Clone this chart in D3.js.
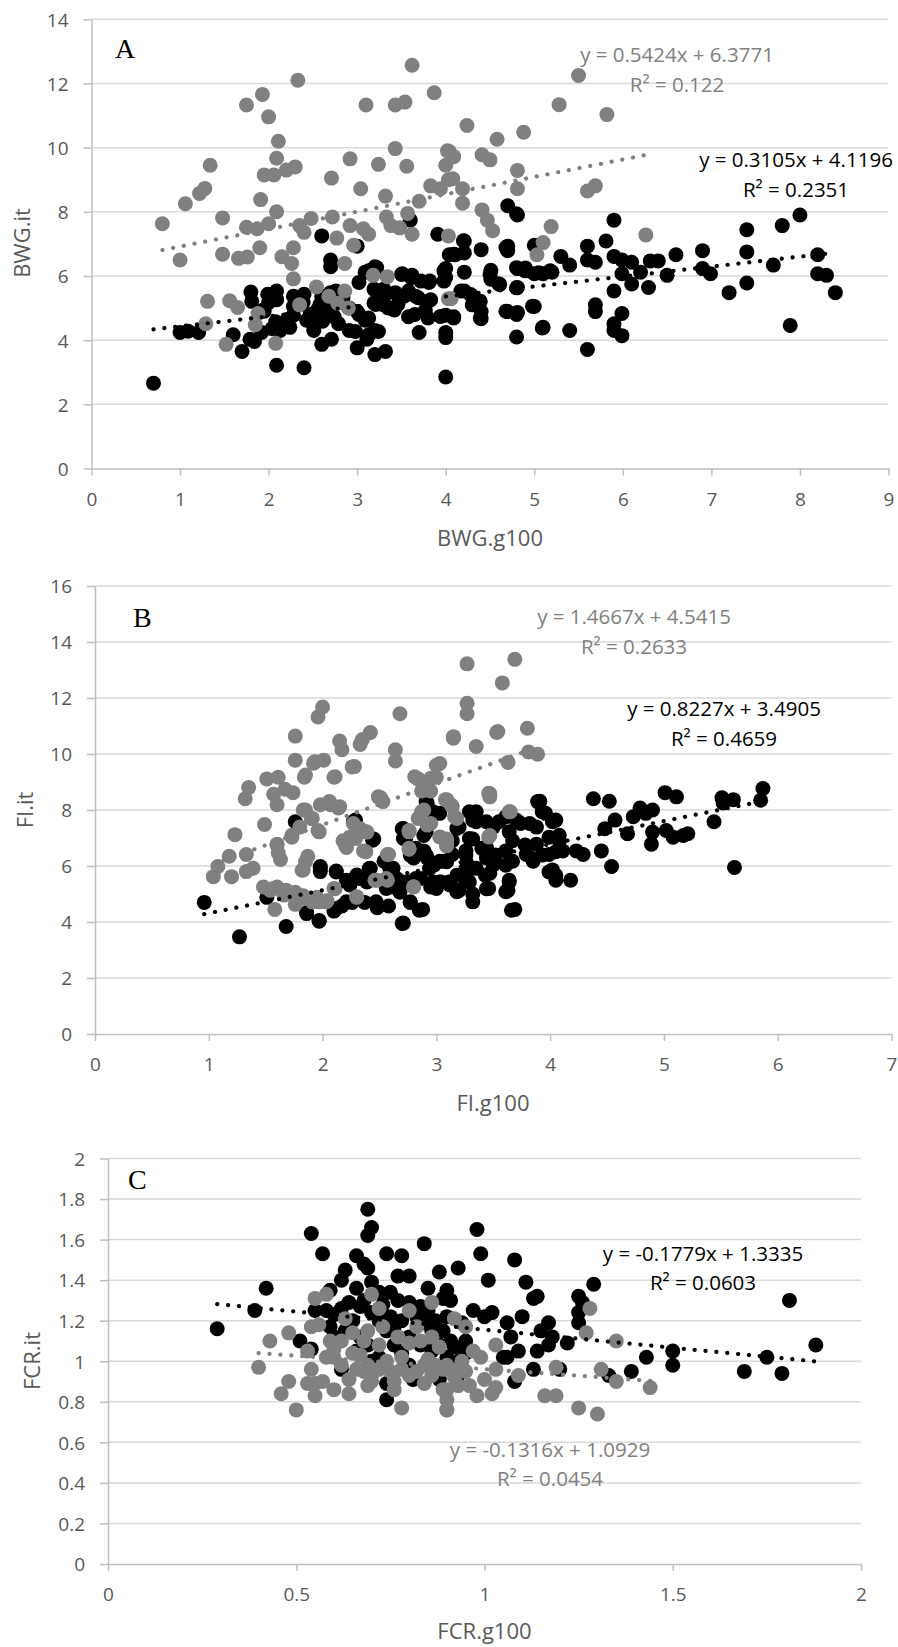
<!DOCTYPE html>
<html><head><meta charset="utf-8">
<script src="https://cdn.jsdelivr.net/npm/d3@7/dist/d3.min.js"></script>
<style>body{margin:0;background:#fff}svg{display:block}</style>
</head><body>
<svg id="c" width="898" height="1647"></svg>
<script>
// ---------- DATA ----------
const aBlack = [[0.7,2.66],[1.0,4.24],[1.09,4.28],[1.21,4.24],[1.6,4.17],[1.7,3.65],[1.79,4.03],[1.8,5.5],[1.92,4.24],[1.94,4.94],[1.99,5.43],[2.09,5.53],[2.09,5.26],[2.09,3.22],[2.08,4.57],[2.21,4.64],[2.28,5.37],[2.4,5.43],[2.28,4.78],[2.4,3.14],[2.51,4.3],[2.6,7.25],[2.6,3.87],[2.71,4.03],[2.7,6.5],[2.7,6.29],[2.6,5.37],[2.7,5.48],[2.55,4.94],[2.62,4.78],[2.74,4.73],[2.79,4.51],[2.91,4.3],[3.0,6.93],[3.0,3.76],[3.11,4.03],[3.2,4.3],[3.02,5.8],[3.09,6.12],[3.2,6.29],[3.0,4.89],[3.09,4.62],[3.19,5.59],[3.19,5.16],[3.2,3.55],[3.32,3.65],[3.3,5.1],[3.42,4.94],[3.3,5.59],[3.51,6.07],[3.62,6.02],[3.53,5.37],[3.66,5.37],[3.6,7.74],[3.58,4.73],[3.7,4.24],[3.77,4.94],[3.83,5.26],[3.81,5.8],[3.91,7.3],[4.0,4.78],[4.0,4.24],[4.0,4.08],[4.0,2.85],[4.04,6.66],[4.0,6.23],[4.0,5.96],
[4.21,7.09],[4.11,6.66],[4.21,6.72],[4.4,6.82],[4.21,6.12],[4.21,5.53],[4.3,5.37],[4.3,5.1],[4.4,4.89],[4.4,4.67],[4.09,4.73],[4.51,6.18],[4.51,5.9],[4.6,5.75],[4.7,8.19],[4.81,7.9],[4.7,6.93],[4.7,6.79],[4.81,6.23],[4.9,6.25],[4.81,5.64],[4.7,4.89],[4.81,4.86],[4.8,4.1],[5.0,6.96],[5.0,6.07],[5.1,6.07],[5.2,6.12],[5.0,5.05],[5.1,4.4],[5.3,6.61],[5.4,6.34],[5.4,4.3],[5.6,6.93],[5.6,6.5],[5.69,6.43],[5.6,3.71],[5.69,5.1],[5.69,4.89],[5.81,7.09],[5.9,7.74],[5.9,6.61],[5.99,6.5],[6.1,6.43],[5.9,5.53],[5.99,6.07],[6.1,5.75],[6.2,6.12],[5.9,4.51],[5.9,4.3],[5.99,4.83],[5.99,4.14],[6.29,5.64],[6.31,6.47],[6.4,6.47],[6.5,6.02],[6.6,6.66],[6.9,6.79],[6.9,6.23],[6.99,6.07],[7.2,5.48],[7.4,7.44],[7.4,6.75],[7.4,5.78],[7.7,6.34],[7.8,7.57],[8.0,7.9],[7.89,4.46],[8.2,6.66],[8.2,6.07],[8.3,6.02],[8.4,5.48],
[3.13,6.16],[3.22,6.26],[3.21,5.53],[3.32,5.42],[3.43,5.48],[3.21,5.11],[3.35,5.0],[3.46,5.11],[3.5,6.05],[3.61,5.95],[3.72,5.84],[3.82,5.84],[3.58,5.53],[3.69,5.32],[3.8,5.21],[3.65,4.8],[3.8,4.69],[3.94,4.74],[3.98,6.16],[3.98,5.84],[4.09,6.68],[4.2,7.1],[4.09,4.69],[4.17,5.53],[4.28,5.42],[4.39,5.21],[4.39,4.69],[4.5,6.05],[4.61,5.74],[4.68,6.89],[4.8,7.94],[4.68,4.9],[4.8,4.8],[4.8,5.63],[4.98,5.06],[5.09,4.38],[4.8,6.26],[4.9,6.16],[5.05,6.1],[5.18,6.16],[1.95,4.9],[1.84,3.96],[2.91,5.0],[3.02,4.8],[3.13,4.69],[2.98,4.27],[3.13,4.17],[3.24,4.27],[2.76,5.53],[2.84,5.32],[2.58,5.11],[2.69,5.0],[2.47,4.8],[2.61,4.59],[1.81,5.21],[2.0,5.17],[2.09,5.27],[2.28,5.05],[2.39,5.17],[2.04,4.36],[2.13,4.3],[2.24,4.4],[2.43,4.62],[2.51,4.46]];
const aGray = [[0.8,7.63],[1.0,6.5],[1.06,8.25],[1.22,8.57],[1.28,8.73],[1.34,9.45],[1.48,7.81],[1.48,6.68],[1.31,5.21],[1.29,4.51],[1.52,3.87],[1.56,5.23],[1.65,5.02],[1.66,6.55],[1.76,6.59],[1.75,11.33],[1.93,11.66],[2.0,10.96],[2.11,10.2],[2.09,9.67],[1.95,9.15],[2.06,9.15],[2.2,9.3],[2.3,9.4],[2.33,12.1],[1.75,7.52],[1.87,7.47],[1.91,8.38],[2.0,7.63],[2.09,8.0],[1.9,6.88],[1.88,4.83],[1.85,4.48],[2.08,3.9],[2.15,6.6],[2.26,6.39],[2.28,5.91],[2.28,6.88],[2.35,5.1],[2.35,7.57],[2.4,7.36],[2.48,7.79],[2.54,5.66],[2.71,9.05],[2.72,7.84],[2.77,7.18],[2.86,6.39],[2.86,5.53],[2.68,5.37],[2.9,5.0],[2.78,5.15],[2.92,9.65],[2.92,7.57],[2.96,6.96],[3.04,8.72],[3.1,11.33],[3.07,7.47],[3.13,7.3],[3.18,6.02],[3.24,9.48],[3.32,8.49],[3.33,7.84],[3.34,5.98],[3.43,11.33],[3.54,11.42],[3.43,9.97],[3.38,7.57],[3.48,7.5],[3.56,9.42],[3.57,7.95],[3.62,7.3],[3.62,12.57],[3.7,8.33],[3.83,8.81],[3.94,8.72],[3.87,11.71],[4.02,9.9],[4.0,9.45],[4.03,9.0],[4.03,7.25],[4.03,5.29],
[5.5,12.25],[5.28,11.34],[5.82,11.03],[4.24,10.69],[4.58,10.26],[4.88,10.48],[4.04,9.88],[4.09,9.72],[4.41,9.78],[4.5,9.62],[4.81,9.29],[4.08,9.03],[4.19,8.72],[4.81,8.72],[5.6,8.65],[5.69,8.81],[4.19,8.27],[4.41,8.06],[4.47,7.74],[4.53,7.41],[5.19,7.54],[6.26,7.28],[5.1,7.04],[5.03,6.66],[4.06,5.29]];

const bBlack = [[0.96,4.7],[1.27,3.47],[1.68,3.84],[1.76,7.58],[1.51,4.88],[1.86,4.33],[1.97,4.05],[1.98,5.98],[1.98,5.8],[2.12,5.82],[2.1,4.39],[2.17,4.57],[2.21,5.49],[2.3,5.68],[2.39,5.43],[2.26,4.7],[2.37,4.7],[2.48,4.51],[2.58,4.57],[2.42,5.92],[2.45,6.96],[2.29,7.64],[2.54,6.17],[2.62,5.92],[2.61,5.25],[2.68,5.06],[2.77,5.43],[2.71,3.96],[2.77,4.7],[2.88,4.45],[2.7,7.33],[2.73,6.96],[2.8,6.29],[2.89,6.54],[2.92,8.25],[2.99,7.88],[2.89,7.09],[2.92,6.29],[2.98,6.04],[3.06,6.17],[2.86,5.55],[2.95,5.25],[3.04,5.43],
[3.03,7.88],[3.2,7.39],[3.14,6.9],[3.35,7.94],[3.32,7.64],[3.44,7.58],[3.32,6.96],[3.44,6.66],[3.5,7.39],[3.61,7.76],[3.7,7.64],[3.74,7.52],[3.61,6.54],[3.67,6.9],[3.67,6.17],[3.91,8.31],[3.82,7.52],[3.88,7.39],[3.96,7.88],[4.05,7.64],[3.88,6.78],[3.99,7.03],[4.08,6.9],[4.11,6.54],[3.14,6.41],[3.26,6.54],[3.35,5.92],[3.44,6.29],[3.5,6.04],[3.79,6.41],[3.85,6.17],[3.99,6.41],[3.11,5.43],[3.2,5.13],[3.32,5.0],[3.26,5.43],[3.32,5.92],[3.47,5.74],[3.44,5.19],[3.64,5.49],[3.63,5.13],[3.69,4.45],[3.03,5.43],[3.03,6.17],[4.02,5.86],[4.05,5.49],[4.18,5.49],[4.23,6.54],[4.29,6.41],[4.38,8.4],[4.52,8.31],[4.45,6.54],[4.48,7.33],[4.57,7.64],[4.54,5.98],[4.68,7.15],[4.73,7.76],[4.79,8.07],[4.84,7.88],[4.9,8.0],[4.89,6.78],[4.9,7.21],[5.01,8.62],[5.11,8.47],[5.02,7.27],[5.08,7.03],[5.17,7.09],[5.21,7.15],[5.44,7.58],[5.51,8.44],[5.61,8.37],[5.52,8.25],[5.62,5.95],[5.87,8.77],[5.85,8.35],
[1.98,5.91],[2.12,5.79],[1.86,4.3],[1.97,4.03],[2.12,4.48],[2.21,4.72],[2.3,4.84],[2.24,5.32],[2.33,5.55],[2.41,5.91],[2.44,6.92],[2.27,7.58],[2.47,4.72],[2.56,5.2],[2.59,5.91],[2.65,5.55],[2.71,7.34],[2.71,6.98],[2.77,6.39],[2.82,6.63],[2.71,5.43],[2.82,5.55],[2.77,4.72],[2.85,4.42],[2.7,3.95],[2.91,8.3],[2.97,7.94],[2.91,7.22],[2.91,6.39],[2.94,5.91],[2.97,5.43],[3.0,5.2],[3.09,6.15],[3.18,5.67],[3.26,6.39],[3.18,7.34],[3.29,7.94],[3.35,7.58],[3.29,6.98],[3.4,6.63],[3.46,6.39],[3.26,5.91],[3.29,5.43],[3.32,4.72],[3.18,5.08],[3.12,5.32],[3.43,5.67],[3.46,5.2],[3.61,5.08],[3.52,6.39],[3.61,6.03],[3.64,5.43],[3.66,4.42],[3.55,7.58],[3.64,7.22],[3.72,7.58],[3.78,6.75],[3.84,6.27],[3.93,6.39],[3.89,8.3],[3.93,7.94],[3.99,5.79],[4.05,5.67],[4.02,7.58],[4.05,6.51],[4.08,7.1]];
const bGray = [[1.04,5.62],[1.08,5.98],[1.18,6.35],[1.2,5.62],[1.23,7.12],[1.33,6.41],[1.33,5.8],[1.39,5.92],[1.32,8.4],[1.35,8.8],[1.49,7.48],[1.51,9.11],[1.61,9.17],[1.57,8.56],[1.6,8.19],[1.67,8.74],[1.74,8.62],[1.76,10.64],[1.76,9.78],[1.84,9.17],[1.93,9.72],[2.01,9.78],[1.96,11.32],[2.0,11.68],[2.1,9.17],[2.15,10.46],[2.17,10.15],[2.26,9.54],[2.33,10.34],[2.42,10.77],[2.35,10.52],[2.68,11.44],[2.64,10.15],[2.64,9.75],[3.0,9.6],[1.98,8.19],[2.07,8.19],[2.14,8.07],[1.83,8.0],[1.9,7.7],[1.96,7.27],[1.73,7.03],[1.8,7.39],[1.6,6.78],[1.61,6.47],[1.63,6.23],[1.48,5.25],[1.54,5.13],[1.6,5.25],[1.68,5.13],[1.76,5.06],[1.58,4.45],[1.76,4.63],[1.83,4.94],[1.87,6.35],[1.83,5.86],[1.95,4.88],[2.04,4.76],[2.11,5.19],[2.18,6.9],[2.24,7.03],[2.21,6.66],[2.27,7.52],[2.33,7.33],[2.39,7.21],[2.36,6.54],[2.3,4.88],[2.51,8.44],[2.46,5.49],[2.57,5.49],[2.58,6.41],[2.76,7.27],[2.76,6.6],[2.8,5.25],[2.84,9.11],[2.92,8.99],[2.87,8.68],[2.95,8.68],[2.84,7.7],[2.89,8.0],[2.95,7.52],[3.08,8.37],[3.09,6.9],[3.0,9.17],
[3.27,13.22],[3.69,13.38],[3.58,12.54],[3.27,11.81],[3.27,11.44],[3.15,10.56],[3.35,10.27],[3.53,10.77],[3.8,10.92],[3.81,10.07],[3.89,9.99],[3.63,9.7],[3.03,9.66],[3.47,8.58],[3.47,8.47],[3.09,8.37],[3.14,8.13],[3.16,7.76],[3.47,7.09],[3.64,7.94],[3.09,6.96],[3.09,6.72],
[3.15,10.62],[3.54,10.8],[1.92,9.67],[1.85,9.25],[2.11,9.19],[2.28,9.55],[2.06,8.3],[2.15,8.12],[1.85,8.0],[1.91,7.7],[1.97,7.22],[1.73,7.1],[1.6,6.75],[2.2,6.75],[2.29,6.98],[2.38,7.22],[2.38,6.51],[1.85,6.15],[1.82,5.85],[1.57,5.2],[1.66,4.96],[1.74,4.96],[1.85,4.84],[1.91,4.72],[1.97,4.72],[2.03,4.72],[2.3,4.9],[2.1,5.2],[2.48,5.49],[2.56,5.55],[2.57,6.41],[2.49,8.47],[2.53,8.3],[2.81,9.19],[2.95,9.13],[2.92,8.71],[2.87,7.94],[2.92,7.46],[2.76,7.22],[2.76,6.63],[3.13,8.18],[3.18,7.7],[3.03,7.04],[3.09,6.75],[3.46,8.6],[3.46,7.04],[3.65,7.94],[2.8,5.26]];

const cBlack = [[0.29,1.16],[0.39,1.25],[0.42,1.36],[0.51,1.1],[0.54,1.63],[0.57,1.53],[0.55,1.25],[0.58,1.25],[0.6,1.23],[0.59,1.35],[0.54,1.06],[0.59,1.17],[0.62,1.4],[0.63,1.45],[0.62,0.96],[0.63,1.15],[0.66,1.52],[0.68,1.48],[0.69,1.46],[0.66,1.36],[0.69,1.75],[0.7,1.66],[0.69,1.62],[0.64,1.29],[0.67,1.27],[0.7,1.24],[0.7,1.39],[0.72,1.34],[0.67,1.12],[0.69,1.08],[0.74,1.53],[0.78,1.52],[0.77,1.42],[0.8,1.42],[0.84,1.58],[0.75,1.34],[0.77,1.3],[0.74,1.15],[0.76,1.08],[0.8,1.29],[0.83,1.27],[0.85,1.36],[0.88,1.44],[0.84,1.19],[0.86,1.15],[0.72,1.02],[0.74,0.89],[0.74,0.81],[0.8,0.98],[0.81,0.91],[0.89,1.31],[0.89,1.15],[0.88,0.91],
[0.98,1.65],[0.99,1.53],[1.08,1.5],[0.93,1.46],[1.01,1.4],[1.11,1.39],[1.29,1.38],[0.9,1.35],[0.91,1.3],[1.13,1.31],[1.14,1.32],[1.25,1.32],[1.26,1.29],[1.25,1.24],[1.25,1.19],[0.97,1.25],[1.0,1.22],[1.02,1.24],[1.1,1.22],[0.94,1.19],[0.95,1.1],[0.92,1.07],[1.06,1.19],[1.07,1.12],[1.15,1.15],[1.17,1.19],[1.18,1.12],[1.17,1.08],[1.22,1.09],[1.09,1.05],[1.14,1.05],[1.05,1.02],[1.06,1.02],[1.13,0.96],[1.2,0.96],[1.08,0.9],[1.33,0.93],[1.39,0.95],[1.43,1.02],[1.5,1.05],[1.5,0.98],[1.69,0.95],[1.75,1.02],[1.79,0.94],[1.81,1.3],[1.88,1.08],[0.88,1.08],[0.91,1.1],[0.9,0.98],[0.93,0.93],
[0.75,1.22],[0.78,1.2],[0.82,1.22],[0.85,1.25],[0.87,1.2],[0.9,1.22],[0.76,1.17],[0.72,1.2],[0.8,1.12],[0.83,1.08],[0.86,1.05],[0.9,1.02],[0.93,1.0],[0.95,1.04],[0.78,1.04],[0.7,1.0],[0.66,1.05],[0.73,1.28],[0.68,1.3],[0.62,1.26],[0.65,1.2],[0.6,1.12]];
const cGray = [[0.4,0.97],[0.43,1.1],[0.46,0.84],[0.48,0.9],[0.5,0.76],[0.48,1.14],[0.53,1.05],[0.54,0.96],[0.53,0.89],[0.55,0.89],[0.55,0.83],[0.54,1.17],[0.56,1.18],[0.55,1.31],[0.58,1.33],[0.58,1.02],[0.59,1.1],[0.6,1.02],[0.62,0.98],[0.63,1.21],[0.64,0.84],[0.64,0.91],[0.66,0.96],[0.65,1.14],[0.68,1.1],[0.69,1.15],[0.67,1.03],[0.69,0.98],[0.69,0.88],[0.7,1.33],[0.72,1.26],[0.7,0.93],[0.72,0.96],[0.73,1.17],[0.75,0.95],[0.77,1.12],[0.78,1.02],[0.78,0.96],[0.76,0.86],[0.78,0.77],[0.8,1.25],[0.82,1.17],[0.8,1.09],[0.83,1.1],[0.82,0.95],[0.84,0.89],[0.85,1.01],[0.86,1.12],[0.88,1.07],[0.86,1.29],[0.86,0.93],[0.89,0.96],[0.9,0.86],[0.9,0.76],
[0.92,1.21],[0.95,1.17],[0.88,1.07],[0.97,1.05],[0.99,1.02],[0.9,0.98],[0.93,0.96],[0.95,0.95],[1.03,1.08],[1.03,0.96],[0.89,0.86],[0.93,0.88],[0.9,0.81],[0.9,0.76],[0.98,0.83],[1.02,0.84],[1.03,0.87],[1.0,0.91],[1.09,0.93],[1.16,0.83],[1.19,0.83],[1.19,0.97],[1.25,0.77],[1.3,0.74],[1.27,1.14],[1.28,1.26],[1.31,0.96],[1.35,1.1],[1.35,0.9],[1.44,0.87],
[0.6,1.06],[0.62,1.1],[0.65,1.04],[0.68,0.95],[0.7,0.9],[0.72,1.08],[0.74,1.0],[0.76,0.9],[0.8,0.93],[0.84,0.98],[0.87,0.98],[0.92,0.92],[0.94,1.0],[0.96,0.88],[0.57,0.9],[0.6,0.86]];

// tick values / domains
const aXTicks = [0,1,2,3,4,5,6,7,8,9];
const aYTicks = [0,2,4,6,8,10,12,14];
const bXTicks = [0,1,2,3,4,5,6,7];
const bYTicks = [0,2,4,6,8,10,12,14,16];
const cXTicks = [0,0.5,1,1.5,2];
const cYTicks = [0,0.2,0.4,0.6,0.8,1,1.2,1.4,1.6,1.8,2];

// regression lines (slope, intercept) and labels
const aBlackFit = [0.3105, 4.1196], aGrayFit = [0.5424, 6.3771];
const bBlackFit = [0.8227, 3.4905], bGrayFit = [1.4667, 4.5415];
const cBlackFit = [-0.1779, 1.3335], cGrayFit = [-0.1316, 1.0929];
const aBlackEq = ["y = 0.3105x + 4.1196", "R² = 0.2351"], aGrayEq = ["y = 0.5424x + 6.3771", "R² = 0.122"];
const bBlackEq = ["y = 0.8227x + 3.4905", "R² = 0.4659"], bGrayEq = ["y = 1.4667x + 4.5415", "R² = 0.2633"];
const cBlackEq = ["y = -0.1779x + 1.3335", "R² = 0.0603"], cGrayEq = ["y = -0.1316x + 1.0929", "R² = 0.0454"];
const axisTitles = [["BWG.g100","BWG.it"],["FI.g100","FI.it"],["FCR.g100","FCR.it"]];
const panelLetters = ["A","B","C"];

// ---------- LAYOUT ----------
const BLACK = "#000000", GRAY = "#808080";
const FONT = "'Open Sans', 'Noto Sans', sans-serif";
const panels = [
  {black:aBlack, gray:aGray, xt:aXTicks, yt:aYTicks, bf:aBlackFit, gf:aGrayFit, be:aBlackEq, ge:aGrayEq,
   L:91.5, R:888.5, T:19.3, B:468.5, xTitle:[490,546], yTitle:[30,243], letter:[115,57.5],
   bePos:[796,167.4], gePos:[677,62.3], fmt:d3.format("d")},
  {black:bBlack, gray:bGray, xt:bXTicks, yt:bYTicks, bf:bBlackFit, gf:bGrayFit, be:bBlackEq, ge:bGrayEq,
   L:95, R:891.5, T:586, B:1034, xTitle:[493,1111], yTitle:[33,810], letter:[133,627],
   bePos:[724,716], gePos:[634,624.4], fmt:d3.format("d")},
  {black:cBlack, gray:cGray, xt:cXTicks, yt:cYTicks, bf:cBlackFit, gf:cGrayFit, be:cBlackEq, ge:cGrayEq,
   L:108, R:861, T:1158.5, B:1564, xTitle:[484.5,1638.5], yTitle:[40,1361], letter:[128,1188.5],
   bePos:[703,1260.5], gePos:[550,1456.7], fmt:d=>String(+d.toFixed(1))}
];

const svg = d3.select("#c");

panels.forEach((p,i)=>{
  const x = d3.scaleLinear().domain(d3.extent(p.xt)).range([p.L,p.R]);
  const y = d3.scaleLinear().domain(d3.extent(p.yt)).range([p.B,p.T]);
  const g = svg.append("g");

  // gridlines
  g.append("g").selectAll("line").data(p.yt.filter(v=>v!==p.yt[0])).join("line")
    .attr("x1",p.L).attr("x2",p.R).attr("y1",d=>y(d)).attr("y2",d=>y(d))
    .attr("stroke","#d9d9d9").attr("stroke-width",1.5);

  // y axis
  const ya = g.append("g").attr("transform",`translate(${p.L},0)`)
    .call(d3.axisLeft(y).tickValues(p.yt).tickFormat(p.fmt).tickSize(8).tickPadding(15).tickSizeOuter(0));
  // x axis
  const xa = g.append("g").attr("transform",`translate(0,${p.B})`)
    .call(d3.axisBottom(x).tickValues(p.xt).tickFormat(p.fmt).tickSize(7).tickPadding(17).tickSizeOuter(0));
  [ya,xa].forEach(a=>{
    a.attr("font-family",FONT).attr("font-size",19);
    a.select(".domain").attr("stroke","#bfbfbf").attr("stroke-width",1.5);
    a.selectAll(".tick line").attr("stroke","#bfbfbf").attr("stroke-width",1.5);
    a.selectAll(".tick text").attr("fill","#595959");
  });
  ya.selectAll(".tick text").attr("dy","0.36em");

  // points
  const pts = g.append("g");
  pts.selectAll("circle.b").data(p.black).join("circle").attr("class","b")
    .attr("cx",d=>x(d[0])).attr("cy",d=>y(d[1])).attr("r",7.5).attr("fill",BLACK);
  pts.selectAll("circle.g").data(p.gray).join("circle").attr("class","g")
    .attr("cx",d=>x(d[0])).attr("cy",d=>y(d[1])).attr("r",7.5).attr("fill",GRAY);

  // trend lines
  [[p.black,p.bf,BLACK],[p.gray,p.gf,GRAY]].forEach(([data,fit,col])=>{
    const ex = d3.extent(data,d=>d[0]);
    g.append("path")
      .attr("d",d3.line()(ex.map(v=>[x(v),y(fit[0]*v+fit[1])])))
      .attr("stroke",col).attr("stroke-width",4.2).attr("stroke-linecap","round")
      .attr("stroke-dasharray","0.1 10.8").attr("fill","none");
  });

  // equations
  [[p.be,p.bePos,BLACK],[p.ge,p.gePos,GRAY]].forEach(([lines,pos,col])=>{
    lines.forEach((t,k)=>{
      g.append("text").attr("x",pos[0]).attr("y",pos[1]+k*29.5)
        .attr("text-anchor","middle").attr("font-family",FONT).attr("font-size",20.5)
        .attr("fill",col).text(t);
    });
  });

  // axis titles
  g.append("text").attr("x",p.xTitle[0]).attr("y",p.xTitle[1]).attr("text-anchor","middle")
    .attr("font-family",FONT).attr("font-size",22).attr("fill","#595959").text(axisTitles[i][0]);
  g.append("text").attr("transform",`translate(${p.yTitle[0]},${p.yTitle[1]}) rotate(-90)`)
    .attr("text-anchor","middle").attr("font-family",FONT).attr("font-size",22)
    .attr("fill","#595959").text(axisTitles[i][1]);

  // panel letter
  g.append("text").attr("x",p.letter[0]).attr("y",p.letter[1])
    .attr("font-family","'Liberation Serif', 'Times New Roman', serif").attr("font-size",28)
    .attr("fill","#000").text(panelLetters[i]);
});
</script>
</body></html>
